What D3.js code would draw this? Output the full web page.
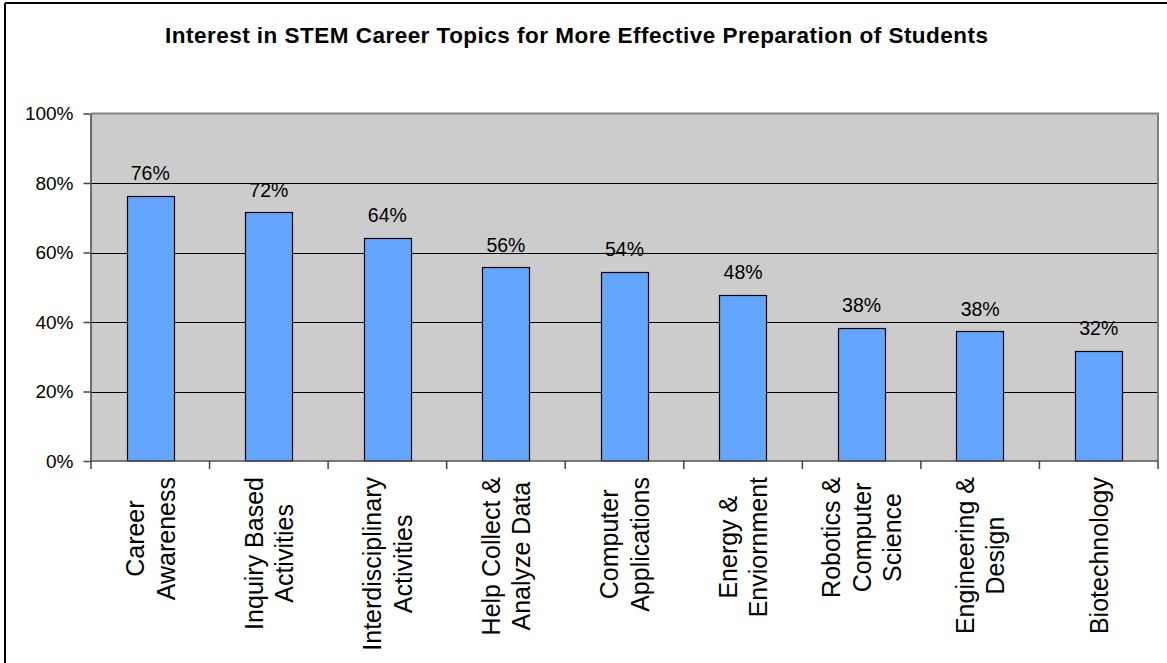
<!DOCTYPE html>
<html>
<head>
<meta charset="utf-8">
<script src="https://cdn.jsdelivr.net/npm/d3@7"></script>
<style>
  html, body { margin: 0; padding: 0; background: #fff; }
  svg { display: block; font-family: "Liberation Sans", Arial, sans-serif; }
</style>
</head>
<body>
<svg id="chart" width="1167" height="663"></svg>
<script>
const title = "Interest in STEM Career Topics for More Effective Preparation of Students";
const categories = [
  ["Career", "Awareness"],
  ["Inquiry Based", "Activities"],
  ["Interdisciplinary", "Activities"],
  ["Help Collect &", "Analyze Data"],
  ["Computer", "Applications"],
  ["Energy &", "Enviornment"],
  ["Robotics &", "Computer", "Science"],
  ["Engineering &", "Design"],
  ["Biotechnology"]
];
const values = [76.3, 71.6, 64.2, 55.8, 54.5, 47.8, 38.3, 37.4, 31.7];
const valueLabels = ["76%", "72%", "64%", "56%", "54%", "48%", "38%", "38%", "32%"];
const yTicks = [0, 20, 40, 60, 80, 100];

const svg = d3.select("#chart");
const W = 1167, H = 663;
const plot = { left: 91, right: 1158, top: 113.5, bottom: 461 };

// outer frame (left and top visible)
svg.append("line").attr("x1", 5).attr("x2", 5).attr("y1", 3).attr("y2", H).attr("stroke", "#000").attr("stroke-width", 2);
svg.append("line").attr("x1", 5).attr("x2", W).attr("y1", 3).attr("y2", 3).attr("stroke", "#000").attr("stroke-width", 2);

// title
svg.append("text").attr("x", 576.5).attr("y", 43).attr("text-anchor", "middle")
  .attr("font-weight", "bold").attr("font-size", 22.5)
  .attr("textLength", 823).attr("lengthAdjust", "spacing")
  .attr("fill", "#000").text(title);

const x = d3.scaleBand().domain(d3.range(categories.length))
  .range([plot.left, plot.right]).paddingInner(0.6).paddingOuter(0.3);
const xCat = d3.scaleBand().domain(d3.range(categories.length)).range([plot.left, plot.right]);
const y = d3.scaleLinear().domain([0, 100]).range([plot.bottom, plot.top]);

// plot background
svg.append("rect").attr("x", plot.left).attr("y", plot.top)
  .attr("width", plot.right - plot.left).attr("height", plot.bottom - plot.top).attr("fill", "#cccccc");

// gridlines
svg.append("g").selectAll("line").data(yTicks.filter(t => t > 0 && t < 100)).join("line")
  .attr("x1", plot.left).attr("x2", plot.right)
  .attr("y1", d => Math.round(y(d)) + 0.5).attr("y2", d => Math.round(y(d)) + 0.5)
  .attr("stroke", "#000").attr("stroke-width", 1);

// plot border top/right
svg.append("path")
  .attr("d", `M${plot.left},${plot.top}H${plot.right}V${plot.bottom}`)
  .attr("fill", "none").attr("stroke", "#808080").attr("stroke-width", 2);

// bars
svg.append("g").selectAll("rect").data(values).join("rect")
  .attr("x", (d, i) => Math.round(x(i)) + 0.5)
  .attr("y", d => Math.round(y(d)) + 0.5)
  .attr("width", Math.round(x.bandwidth()))
  .attr("height", d => plot.bottom - Math.round(y(d)) - 0.5)
  .attr("fill", "#63a6ff").attr("stroke", "#000").attr("stroke-width", 1.2);

// data labels
svg.append("g").selectAll("text").data(values).join("text")
  .attr("x", (d, i) => x(i) + x.bandwidth() / 2)
  .attr("y", d => y(d) - 15.5)
  .attr("text-anchor", "middle").attr("font-size", 19.5).attr("fill", "#000")
  .text((d, i) => valueLabels[i]);

// y axis
const yAxis = d3.axisLeft(y).tickValues(yTicks).tickFormat(d => d + "%").tickSizeInner(7).tickSizeOuter(0).tickPadding(10);
const gy = svg.append("g").attr("transform", `translate(${plot.left - 0.5},0)`).call(yAxis);
gy.select(".domain").attr("stroke", "#444").attr("stroke-width", 1.5);
gy.selectAll(".tick line").attr("stroke", "#444").attr("stroke-width", 1.5);
gy.selectAll(".tick text").attr("font-size", 19).attr("fill", "#000")
  .attr("font-family", "Liberation Sans, Arial, sans-serif");

// x axis line and ticks at category boundaries
const bounds = d3.range(categories.length + 1).map(i => i < categories.length ? xCat(i) : plot.right);
svg.append("line").attr("x1", plot.left - 0.5).attr("x2", plot.right).attr("y1", plot.bottom).attr("y2", plot.bottom)
  .attr("stroke", "#555").attr("stroke-width", 1.5);
svg.append("g").selectAll("line").data(bounds).join("line")
  .attr("x1", d => d).attr("x2", d => d).attr("y1", plot.bottom).attr("y2", plot.bottom + 8)
  .attr("stroke", "#444").attr("stroke-width", 1.5);

// category labels (rotated, multi-line, centered lines)
const lineGap = 30.5;
const labelTop = 477;
categories.forEach((lines, i) => {
  const cx = xCat(i) + xCat.bandwidth() / 2;
  const g = svg.append("g");
  const texts = lines.map((t, j) => g.append("text")
    .attr("font-size", 25).attr("fill", "#000").attr("text-anchor", "middle").text(t));
  const maxW = d3.max(texts, t => t.node().getComputedTextLength());
  const cy = labelTop + maxW / 2;
  const n = lines.length;
  texts.forEach((t, j) => {
    const bx = cx + (j - (n - 1) / 2) * lineGap + 9;
    t.attr("transform", `translate(${bx},${cy}) rotate(-90)`);
  });
});
</script>
</body>
</html>
